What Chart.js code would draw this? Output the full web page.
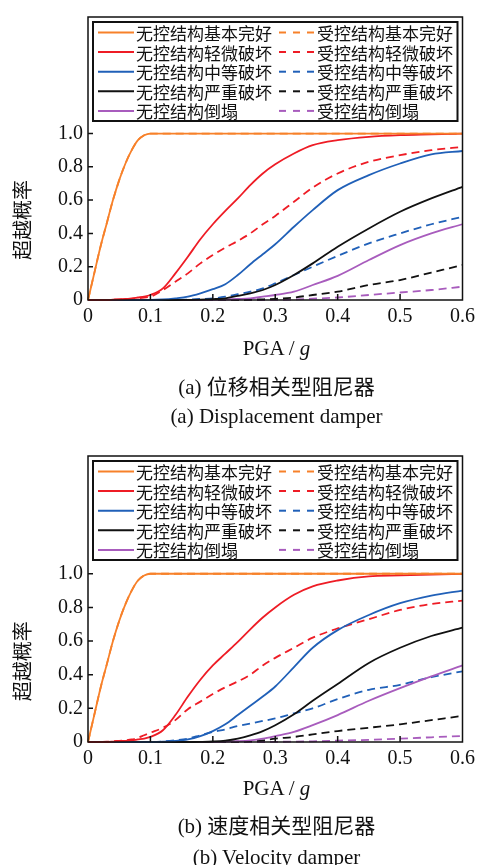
<!DOCTYPE html>
<html>
<head>
<meta charset="utf-8">
<script src="https://cdn.jsdelivr.net/npm/chart.js@4.4.1/dist/chart.umd.min.js"></script>
<style>
  body { margin: 0; background: #fff; }
  #page { position: relative; width: 480px; height: 865px; overflow: hidden; color: #111;
          font-family: "Liberation Serif", "Noto Sans CJK SC", serif; }
  canvas { position: absolute; left: 0; }
  .cap { position: absolute; left: 88px; width: 377px; text-align: center; white-space: nowrap;
         font-size: 21px; line-height: 24px; height: 24px; }
</style>
</head>
<body>
<div id="page">
  <canvas id="chartA" width="480" height="432" style="top:0"></canvas>
  <canvas id="chartB" width="480" height="433" style="top:432px"></canvas>
  <div class="cap" style="top:336px">PGA / <i>g</i></div>
  <div class="cap" style="top:375px">(a) 位移相关型阻尼器</div>
  <div class="cap" style="top:404px">(a) Displacement damper</div>
  <div class="cap" style="top:776px">PGA / <i>g</i></div>
  <div class="cap" style="top:814px">(b) 速度相关型阻尼器</div>
  <div class="cap" style="top:845px">(b) Velocity damper</div>
</div>
<script>
// PGA grid shared by every curve (g)
const pga = [0, 0.01, 0.02, 0.03, 0.04, 0.05, 0.06, 0.07, 0.08, 0.09, 0.10, 0.12, 0.14, 0.16, 0.18, 0.20, 0.22, 0.24, 0.26, 0.28, 0.30, 0.33, 0.36, 0.40, 0.45, 0.50, 0.55, 0.60];

const xTicks = [0, 0.1, 0.2, 0.3, 0.4, 0.5, 0.6];
const xTickLabels = ["0", "0.1", "0.2", "0.3", "0.4", "0.5", "0.6"];
const yTicks = [0, 0.2, 0.4, 0.6, 0.8, 1.0];
const yTickLabels = ["0", "0.2", "0.4", "0.6", "0.8", "1.0"];

const uncontrolledLabels = ["无控结构基本完好", "无控结构轻微破坏", "无控结构中等破坏", "无控结构严重破坏", "无控结构倒塌"];
const controlledLabels = ["受控结构基本完好", "受控结构轻微破坏", "受控结构中等破坏", "受控结构严重破坏", "受控结构倒塌"];
const stateColors = ["#F7812A", "#EE1C25", "#2060B8", "#111111", "#A85CBD"];

// (a) displacement damper
const a_intactU = [0, 0.16, 0.32, 0.46, 0.60, 0.72, 0.82, 0.90, 0.96, 0.99, 1, 1, 1, 1, 1, 1, 1, 1, 1, 1, 1, 1, 1, 1, 1, 1, 1, 1];
const a_intactC = [0, 0.16, 0.32, 0.46, 0.60, 0.72, 0.82, 0.90, 0.96, 0.99, 1, 1, 1, 1, 1, 1, 1, 1, 1, 1, 1, 1, 1, 1, 1, 1, 1, 1];
const a_slightU = [0, 0, 0, 0, 0.002, 0.004, 0.006, 0.01, 0.015, 0.02, 0.03, 0.07, 0.16, 0.26, 0.365, 0.455, 0.535, 0.61, 0.69, 0.76, 0.815, 0.88, 0.93, 0.96, 0.98, 0.99, 0.995, 1.0];
const a_slightC = [0, 0, 0, 0, 0.002, 0.003, 0.005, 0.007, 0.01, 0.015, 0.02, 0.06, 0.11, 0.16, 0.22, 0.27, 0.315, 0.355, 0.40, 0.455, 0.505, 0.59, 0.675, 0.76, 0.83, 0.87, 0.90, 0.92];
const a_moderateU = [0, 0, 0, 0, 0, 0, 0, 0, 0, 0, 0, 0.003, 0.01, 0.02, 0.04, 0.065, 0.095, 0.15, 0.215, 0.275, 0.335, 0.44, 0.54, 0.66, 0.75, 0.82, 0.875, 0.895];
const a_moderateC = [0, 0, 0, 0, 0, 0, 0, 0, 0, 0, 0, 0, 0.001, 0.003, 0.006, 0.01, 0.02, 0.035, 0.05, 0.07, 0.10, 0.15, 0.20, 0.265, 0.34, 0.40, 0.455, 0.50];
const a_severeU = [0, 0, 0, 0, 0, 0, 0, 0, 0, 0, 0, 0, 0, 0.001, 0.002, 0.005, 0.01, 0.025, 0.04, 0.06, 0.09, 0.15, 0.22, 0.32, 0.43, 0.53, 0.61, 0.68];
const a_severeC = [0, 0, 0, 0, 0, 0, 0, 0, 0, 0, 0, 0, 0, 0, 0, 0, 0.001, 0.001, 0.002, 0.004, 0.007, 0.015, 0.03, 0.05, 0.09, 0.12, 0.165, 0.21];
const a_collapseU = [0, 0, 0, 0, 0, 0, 0, 0, 0, 0, 0, 0, 0, 0, 0, 0.001, 0.003, 0.006, 0.01, 0.02, 0.03, 0.05, 0.09, 0.145, 0.24, 0.33, 0.40, 0.455];
const a_collapseC = [0, 0, 0, 0, 0, 0, 0, 0, 0, 0, 0, 0, 0, 0, 0, 0, 0, 0, 0, 0, 0.001, 0.003, 0.008, 0.015, 0.03, 0.045, 0.06, 0.08];

// (b) velocity damper
const b_intactU = [0, 0.16, 0.32, 0.46, 0.60, 0.72, 0.82, 0.90, 0.96, 0.99, 1, 1, 1, 1, 1, 1, 1, 1, 1, 1, 1, 1, 1, 1, 1, 1, 1, 1];
const b_intactC = [0, 0.16, 0.32, 0.46, 0.60, 0.72, 0.82, 0.90, 0.96, 0.99, 1, 1, 1, 1, 1, 1, 1, 1, 1, 1, 1, 1, 1, 1, 1, 1, 1, 1];
const b_slightU = [0, 0, 0, 0, 0.002, 0.005, 0.007, 0.01, 0.015, 0.02, 0.03, 0.07, 0.16, 0.27, 0.37, 0.455, 0.525, 0.595, 0.67, 0.74, 0.80, 0.875, 0.925, 0.96, 0.985, 0.99, 0.995, 1.0];
const b_slightC = [0, 0, 0.001, 0.002, 0.004, 0.007, 0.01, 0.015, 0.025, 0.04, 0.055, 0.085, 0.13, 0.195, 0.24, 0.285, 0.325, 0.36, 0.40, 0.455, 0.50, 0.56, 0.62, 0.675, 0.73, 0.785, 0.82, 0.84];
const b_moderateU = [0, 0, 0, 0, 0, 0, 0, 0, 0, 0, 0, 0.002, 0.006, 0.015, 0.035, 0.065, 0.105, 0.16, 0.215, 0.27, 0.33, 0.445, 0.56, 0.665, 0.755, 0.825, 0.87, 0.90];
const b_moderateC = [0, 0, 0, 0, 0, 0, 0, 0, 0, 0, 0, 0.003, 0.01, 0.02, 0.04, 0.06, 0.075, 0.095, 0.11, 0.125, 0.14, 0.17, 0.20, 0.255, 0.31, 0.34, 0.385, 0.42];
const b_severeU = [0, 0, 0, 0, 0, 0, 0, 0, 0, 0, 0, 0, 0, 0, 0.001, 0.003, 0.008, 0.02, 0.04, 0.065, 0.10, 0.165, 0.245, 0.345, 0.47, 0.56, 0.63, 0.68];
const b_severeC = [0, 0, 0, 0, 0, 0, 0, 0, 0, 0, 0, 0, 0, 0, 0, 0, 0.001, 0.002, 0.005, 0.01, 0.02, 0.03, 0.045, 0.065, 0.085, 0.105, 0.13, 0.155];
const b_collapseU = [0, 0, 0, 0, 0, 0, 0, 0, 0, 0, 0, 0, 0, 0, 0, 0, 0.002, 0.005, 0.01, 0.02, 0.035, 0.06, 0.10, 0.16, 0.245, 0.32, 0.39, 0.455];
const b_collapseC = [0, 0, 0, 0, 0, 0, 0, 0, 0, 0, 0, 0, 0, 0, 0, 0, 0, 0, 0, 0, 0.001, 0.002, 0.004, 0.008, 0.013, 0.02, 0.028, 0.036];

const DASH = [8, 5];
const SERIF = '"Liberation Serif", serif';
const CJK = '"Noto Sans CJK SC", sans-serif';

const toPoints = (vals) => vals.map((v, i) => ({ x: pga[i], y: v }));

// frame, inward ticks and the rotated y title
const frame = {
  id: "frame",
  afterDatasetsDraw(chart) {
    const { ctx, chartArea: a, scales } = chart;
    ctx.save();
    ctx.strokeStyle = "#111";
    ctx.lineWidth = 1.5;
    ctx.strokeRect(a.left, a.top, a.right - a.left, a.bottom - a.top);
    ctx.beginPath();
    xTicks.slice(1, -1).forEach((v) => {
      const x = scales.x.getPixelForValue(v);
      ctx.moveTo(x, a.bottom); ctx.lineTo(x, a.bottom - 6);
    });
    yTicks.slice(1).forEach((v) => {
      const y = scales.y.getPixelForValue(v);
      ctx.moveTo(a.left, y); ctx.lineTo(a.left + 5, y);
    });
    ctx.stroke();

    ctx.translate(22, scales.y.getPixelForValue(0.48));
    ctx.rotate(-Math.PI / 2);
    ctx.fillStyle = "#111";
    ctx.font = "20px " + CJK;
    ctx.textAlign = "center";
    ctx.textBaseline = "middle";
    ctx.fillText("超越概率", 0, 0);
    ctx.restore();
  },
};

// two-column legend boxed inside the plot
const legendBox = {
  id: "legendBox",
  afterDraw(chart) {
    const { ctx, chartArea: a } = chart;
    ctx.save();
    const bx = a.left + 5, by = a.top + 5, bw = a.right - a.left - 10, bh = 99;
    ctx.fillStyle = "#fff";
    ctx.fillRect(bx, by, bw, bh);
    ctx.lineWidth = 2;
    ctx.strokeStyle = "#111";
    ctx.strokeRect(bx, by, bw, bh);
    ctx.font = "17px " + CJK;
    ctx.textBaseline = "middle";
    for (let i = 0; i < 5; i++) {
      const y = a.top + 15.5 + i * 19.6;
      ctx.lineWidth = 2;
      ctx.strokeStyle = stateColors[i];
      ctx.setLineDash([]);
      ctx.beginPath(); ctx.moveTo(a.left + 10, y); ctx.lineTo(a.left + 46, y); ctx.stroke();
      ctx.setLineDash([7, 7]);
      ctx.beginPath(); ctx.moveTo(a.left + 191, y); ctx.lineTo(a.left + 227, y); ctx.stroke();
      ctx.setLineDash([]);
      ctx.fillStyle = "#111";
      ctx.fillText(uncontrolledLabels[i], a.left + 48, y + 1);
      ctx.fillText(controlledLabels[i], a.left + 229, y + 1);
    }
    ctx.restore();
  },
};

function makeChart(id, uncontrolled, controlled, topPad, xAxisH) {
  const datasets = [];
  uncontrolled.forEach((vals, i) => datasets.push({
    data: toPoints(vals), borderColor: stateColors[i], borderWidth: 1.8,
    pointRadius: 0, cubicInterpolationMode: "monotone", clip: false,
  }));
  controlled.forEach((vals, i) => datasets.push({
    data: toPoints(vals), borderColor: stateColors[i], borderWidth: 1.8, borderDash: DASH,
    pointRadius: 0, cubicInterpolationMode: "monotone", clip: false, order: 1,
  }));

  return new Chart(document.getElementById(id), {
    type: "line",
    data: { datasets },
    options: {
      responsive: false,
      animation: false,
      layout: { padding: { top: topPad, right: 15, bottom: 0, left: 0 } },
      plugins: { legend: { display: false }, tooltip: { enabled: false } },
      scales: {
        x: {
          type: "linear", min: 0, max: 0.6,
          grid: { display: false, drawTicks: false },
          border: { display: false },
          afterBuildTicks: (s) => { s.ticks = xTicks.map((v) => ({ value: v })); },
          afterFit: (s) => { s.height = xAxisH; },
          ticks: {
            padding: 5, color: "#111", maxRotation: 0, autoSkip: false,
            font: { family: SERIF, size: 20 },
            callback: (v, i) => xTickLabels[i],
          },
        },
        y: {
          type: "linear", min: 0, max: 1.7,
          grid: { display: false, drawTicks: false },
          border: { display: false },
          afterBuildTicks: (s) => { s.ticks = yTicks.map((v) => ({ value: v })); },
          afterFit: (s) => { s.width = 88; },
          ticks: {
            padding: 5, color: "#111", autoSkip: false,
            font: { family: SERIF, size: 20 },
            callback: (v, i) => yTickLabels[i],
          },
        },
      },
    },
    plugins: [frame, legendBox],
  });
}

makeChart("chartA",
  [a_intactU, a_slightU, a_moderateU, a_severeU, a_collapseU],
  [a_intactC, a_slightC, a_moderateC, a_severeC, a_collapseC], 14, 132);
makeChart("chartB",
  [b_intactU, b_slightU, b_moderateU, b_severeU, b_collapseU],
  [b_intactC, b_slightC, b_moderateC, b_severeC, b_collapseC], 24, 123);
</script>
</body>
</html>
